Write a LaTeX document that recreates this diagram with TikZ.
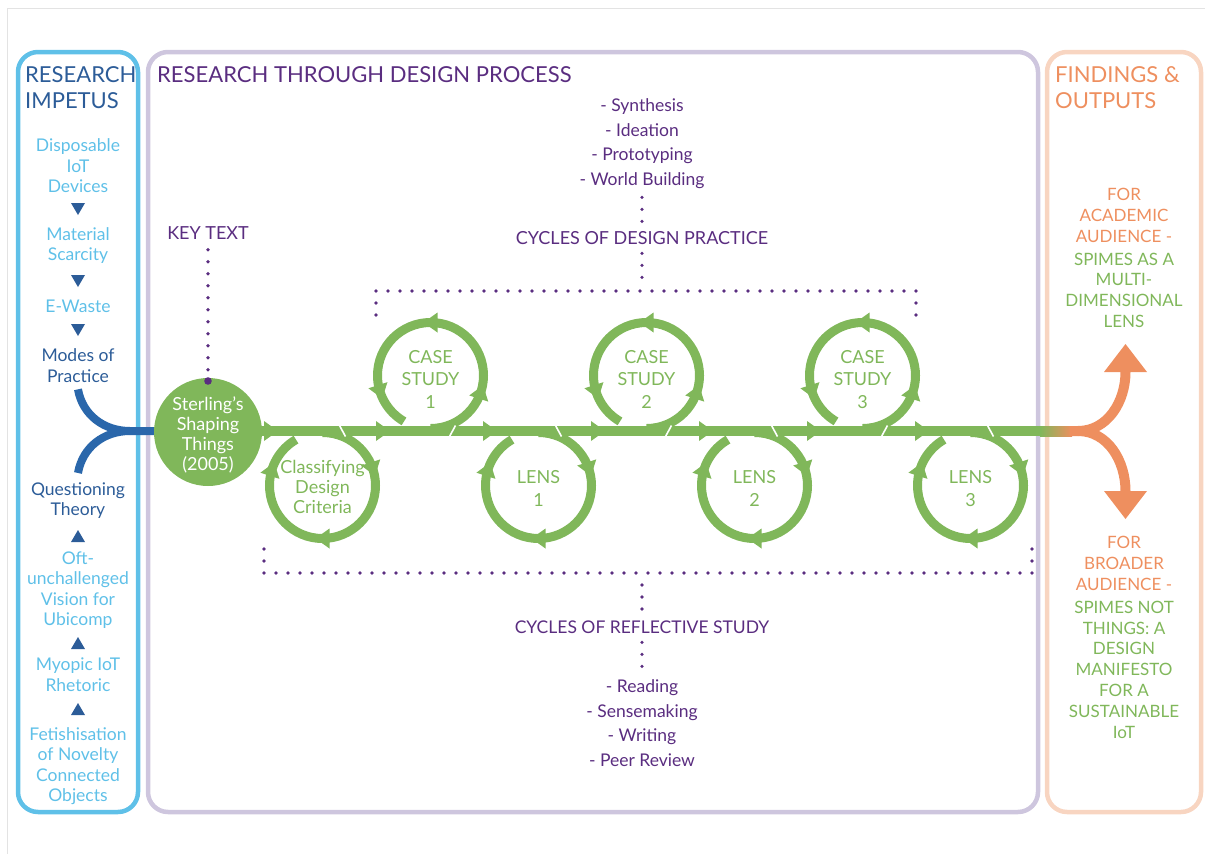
\documentclass[tikz,border=0pt]{standalone}
\usepackage{fontspec}
\setmainfont{Lato}

\definecolor{impetusblue}{HTML}{5FC0E8}
\definecolor{deepblue}{HTML}{2C5C98}
\definecolor{forkblue}{HTML}{2A67AB}
\definecolor{rtdpurple}{HTML}{5A2D80}
\definecolor{lavender}{HTML}{CEC6DE}
\definecolor{peach}{HTML}{F8D5C1}
\definecolor{leafgreen}{HTML}{80B75A}
\definecolor{outorange}{HTML}{EE8F5F}
\definecolor{framegrey}{HTML}{E3E3E3}

\tikzset{
  panel/.style={line width=4.5pt, rounded corners=20pt},
  heading/.style={font=\fontsize{22}{26}\selectfont, align=left, anchor=base west, inner sep=0pt},
  sidetext/.style={font=\fontsize{17.5}{20.5}\selectfont, align=center, anchor=base, inner sep=0pt},
  outtext/.style={font=\fontsize{17}{20.8}\selectfont, align=center, anchor=base, inner sep=0pt},
  cycletext/.style={font=\fontsize{18}{24}\selectfont, rtdpurple, anchor=base, inner sep=0pt},
  listtext/.style={font=\fontsize{17.5}{24.5}\selectfont, rtdpurple, align=center, anchor=base, inner sep=0pt},
  ringtext/.style={font=\fontsize{18}{22.5}\selectfont, leafgreen, align=center, anchor=base, inner sep=0pt},
  dotline/.style={rtdpurple, line width=3.6pt, line cap=round, dash pattern=on 0pt off 12pt},
  flow/.style={leafgreen, line width=10pt},
  ring/.style={leafgreen, line width=9pt},
  slit/.style={white, line width=1.6pt},
  flowtip/.pic={\fill[leafgreen] (7,0) -- (-7,10) -- (-7,-10) -- cycle;}
}

\begin{document}
\begin{tikzpicture}[x=1pt,y=1pt]
\useasboundingbox (0,0) rectangle (1205,-854);
\draw[framegrey, line width=1pt] (7.5,-854) -- (7.5,-8) -- (1205,-8);

% three panels
\draw[panel, impetusblue] (18,-52) rectangle (138,-812);
\draw[panel, lavender] (148,-52) rectangle (1038,-812);
\draw[panel, peach] (1047,-52) rectangle (1201,-812);

% (multi-line nodes sit on their last baseline)
\node[heading, deepblue] (impetus) at (25,-108) {RESEARCH\\IMPETUS};
\node[heading, rtdpurple] (rtd) at (157,-82) {RESEARCH THROUGH DESIGN PROCESS};
\node[heading, outorange] (findings) at (1055,-108) {FINDINGS \&\\OUTPUTS};

% research impetus, top half
\node[sidetext, impetusblue] (disposable) at (78,-192.5) {Disposable\\IoT\\Devices};
\node[sidetext, impetusblue] (scarcity) at (78,-260.5) {Material\\Scarcity};
\node[sidetext, impetusblue] (ewaste) at (78,-312.5) {E-Waste};
\node[sidetext, deepblue] (modes) at (78,-382) {Modes of\\Practice};
\foreach \t in {203,275,324}
  \fill[deepblue] (71,-\t) -- (85,-\t) -- (78,{-\t-12}) -- cycle;

% research impetus, bottom half
\node[sidetext, deepblue] (theory) at (78,-515.5) {Questioning\\Theory};
\node[sidetext, impetusblue] (ubicomp) at (78,-625.5) {Oft-\\unchallenged\\Vision for\\Ubicomp};
\node[sidetext, impetusblue] (rhetoric) at (78,-691) {Myopic IoT\\Rhetoric};
\node[sidetext, impetusblue] (novelty) at (78,-801.5) {Fetishisation\\of Novelty\\Connected\\Objects};
\foreach \t in {530,637,703}
  \fill[deepblue] (71,{-\t-12}) -- (85,{-\t-12}) -- (78,-\t) -- cycle;

% blue fork into the key text
\coordinate (flowstart) at (208,-431);
\coordinate (forkjoin) at (130,-431);
\draw[forkblue, line width=8pt] ([yshift=-7pt]modes.south) to[out=-80,in=180] (forkjoin) -- (flowstart);
\draw[forkblue, line width=8pt] ([yshift=9pt]theory.north) to[out=80,in=180] (forkjoin);

% main line
\coordinate (flowend) at (1042,-431);
\draw[flow] (flowstart) -- (flowend);
\foreach \x in {271,383,490,598,706,814,922}
  \pic at (\x,-431) {flowtip};

% cycles below the line
\foreach \cx in {322.5,538.5,754.5,970.5}{
  \draw[ring] (\cx,-432.5) arc (90:-240:53);
  \begin{scope}[shift={(\cx,-485.5)}]
    \foreach \a in {18,-90,162}
      \pic[rotate=\a-90] at (\a:53) {flowtip};
  \end{scope}
  \draw[slit] ({\cx+17},-425.5) -- ({\cx+23},-436.5);
}

% cycles above the line
\foreach \cx in {430.5,646.5,862.5}{
  \draw[ring] (\cx,-428.5) arc (-90:240:53);
  \begin{scope}[shift={(\cx,-375.5)}]
    \foreach \a in {-18,90,198}
      \pic[rotate=\a+90] at (\a:53) {flowtip};
  \end{scope}
  \draw[slit] ({\cx+19},-436.5) -- ({\cx+25},-425.5);
}

\node[circle, fill=leafgreen, minimum size=108pt, inner sep=0pt] (sterling) at (208,-432) {};
\node[font=\fontsize{18}{20}\selectfont, white, align=center, anchor=base, inner sep=0pt] (sterlingtext) at (208,-470) {Sterling’s\\Shaping\\Things\\(2005)};

\node[cycletext] (keytext) at (208,-239.5) {KEY TEXT};
\coordinate (keydot) at (208,-381);
\draw[dotline] ([yshift=-10pt]keytext.south) -- ([yshift=10pt]keydot);
\fill[rtdpurple] (keydot) circle (3.8pt);

\node[ringtext, font=\fontsize{18}{20}\selectfont] (criteria) at (322.5,-513) {Classifying\\Design\\Criteria};
\node[ringtext] (case1) at (430.5,-408) {CASE\\STUDY\\1};
\node[ringtext] (lens1) at (538.5,-506) {LENS\\1};
\node[ringtext] (case2) at (646.5,-408) {CASE\\STUDY\\2};
\node[ringtext] (lens2) at (754.5,-506) {LENS\\2};
\node[ringtext] (case3) at (862.5,-408) {CASE\\STUDY\\3};
\node[ringtext] (lens3) at (970.5,-506) {LENS\\3};

% design practice
\node[listtext] (designlist) at (642,-185) {- Synthesis\\- Ideation\\- Prototyping\\- World Building};
\node[cycletext] (designcycles) at (642,-244) {CYCLES OF DESIGN PRACTICE};
\draw[dotline] ([yshift=-9pt]designlist.south) -- ([yshift=9pt]designcycles.north);
\draw[dotline] ([yshift=-9pt]designcycles.south) -- ++(0,-24);
\draw[dotline] (376,-315) -- (376,-291) -- (916,-291) -- (916,-315);

% reflective study
\coordinate (reflectjoin) at (642,-573);
\draw[dotline] (264,-549) -- (264,-573) -- (1032,-573) -- (1032,-549);
\node[cycletext, font=\fontsize{17.5}{24}\selectfont] (reflectcycles) at (642,-633) {CYCLES OF REFLECTIVE STUDY};
\node[listtext] (reflectlist) at (642,-766) {- Reading\\- Sensemaking\\- Writing\\- Peer Review};
\draw[dotline] ([yshift=-12pt]reflectjoin) -- ([yshift=9pt]reflectcycles.north);
\draw[dotline] ([yshift=-9pt]reflectcycles.south) -- ([yshift=9pt]reflectlist.north);

% findings and outputs
\node[outtext, outorange] (academic) at (1124,-242.5) {FOR\\ACADEMIC\\AUDIENCE -};
\node[outtext, leafgreen] (lensout) at (1124,-327.5) {SPIMES AS A\\MULTI-\\DIMENSIONAL\\LENS};
\node[outtext, outorange] (broader) at (1124,-590.5) {FOR\\BROADER\\AUDIENCE -};
\node[outtext, leafgreen] (manifesto) at (1124,-738) {SPIMES NOT\\THINGS: A\\DESIGN\\MANIFESTO\\FOR A\\SUSTAINABLE\\IoT};

\shade[left color=leafgreen, right color=outorange] (1040,-426) rectangle (1072,-436);
\coordinate (fork) at (1078,-431);
\draw[outorange, line width=10pt] (1070,-431) -- (fork) to[out=0,in=-90] (1125.5,-372);
\draw[outorange, line width=10pt] (fork) to[out=0,in=90] (1125.5,-491);
\fill[outorange] (1125.5,-344) -- (1104,-372) -- (1147,-372) -- cycle;
\fill[outorange] (1125.5,-519) -- (1104,-491) -- (1147,-491) -- cycle;
\end{tikzpicture}
\end{document}
